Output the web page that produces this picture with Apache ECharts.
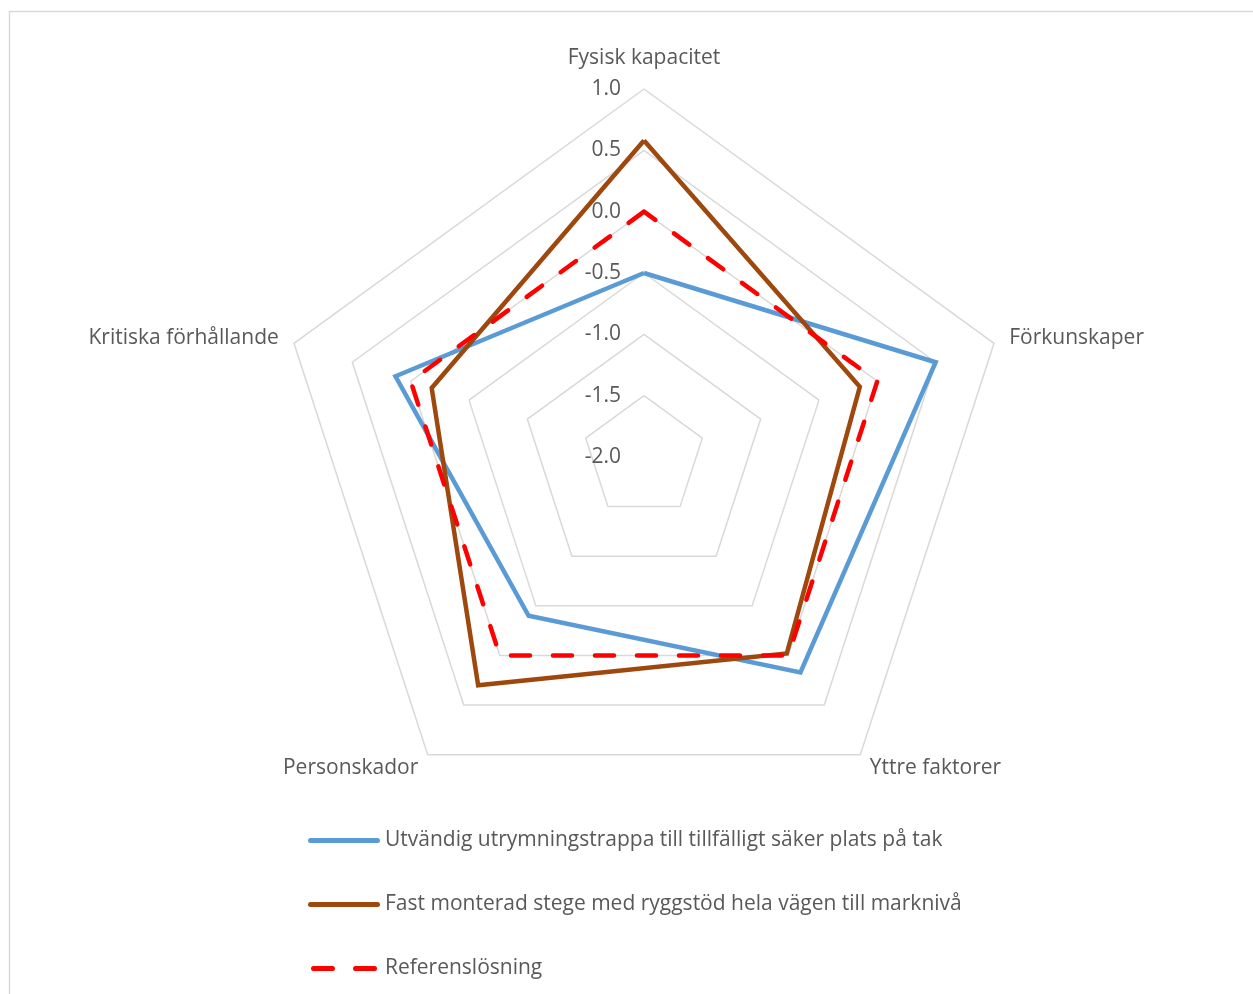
<!DOCTYPE html>
<html>
<head>
<meta charset="utf-8">
<script src="https://cdn.jsdelivr.net/npm/echarts@6/dist/echarts.min.js"></script>
<style>
  html, body { margin: 0; padding: 0; background: #ffffff; }
  #chart { width: 1253px; height: 994px; }
</style>
</head>
<body>
<div id="chart"></div>
<script>
// Criteria, listed clockwise from the top of the web
const criteria = ['Fysisk kapacitet', 'Förkunskaper', 'Yttre faktorer', 'Personskador', 'Kritiska förhållande'];

// Scores per alternative (same order as criteria)
const utvandigTrappa = [-0.5, 0.5, 0.17, -0.4, 0.13];
const fastStege = [0.58, -0.15, -0.02, 0.3, -0.18];
const referens = [0, 0, 0, 0, 0];

const seriesNames = [
  'Utvändig utrymningstrappa till tillfälligt säker plats på tak',
  'Fast monterad stege med ryggstöd hela vägen till marknivå',
  'Referenslösning'
];

// Value scale of the web
const scaleMin = -2.0;
const scaleMax = 1.0;
const scaleStep = 0.5;

const FONT = '"Open Sans", "Noto Sans", sans-serif';
const FONT_SIZE = 21;
const TEXT_COLOR = '#595959';

// ECharts lays indicators out counter-clockwise; reorder so the web reads clockwise
const ccwOrder = [0, 4, 3, 2, 1];
const reorder = arr => ccwOrder.map(i => arr[i]);

const indicators = reorder(criteria).map((name, i) => {
  const ind = { name: name, min: scaleMin, max: scaleMax };
  if (i === 0) {
    // the top axis carries the value labels and sits a little further out
    ind.nameGap = 20;
    ind.axisLabel = {
      show: true,
      color: TEXT_COLOR,
      fontFamily: FONT,
      fontSize: FONT_SIZE,
      margin: 23,
      padding: [5, 0, 0, 0],
      formatter: v => Number(v).toFixed(1)
    };
  }
  return ind;
});

const chart = echarts.init(document.getElementById('chart'), null, { renderer: 'canvas' });

chart.setOption({
  backgroundColor: '#ffffff',
  animation: false,
  graphic: [{
    type: 'rect',
    shape: { x: 9.5, y: 11.5, width: 1400, height: 1200 },
    style: { fill: 'none', stroke: '#d9d9d9', lineWidth: 1.5 },
    silent: true,
    z: -10
  }],
  radar: {
    center: [644, 457],
    radius: 368,
    startAngle: 90,
    shape: 'polygon',
    splitNumber: Math.round((scaleMax - scaleMin) / scaleStep),
    indicator: indicators,
    nameGap: 16,
    axisName: { color: TEXT_COLOR, fontFamily: FONT, fontSize: FONT_SIZE, padding: [3, 0, 0, 0] },
    axisLine: { show: false },
    axisTick: { show: false },
    axisLabel: { show: false },
    splitArea: { show: false },
    splitLine: { lineStyle: { color: '#d9d9d9', width: 1.5 } }
  },
  legend: {
    orient: 'vertical',
    left: 303,
    top: 825,
    itemWidth: 72,
    itemHeight: 5,
    itemGap: 43,
    textStyle: { color: TEXT_COLOR, fontFamily: FONT, fontSize: FONT_SIZE },
    itemStyle: { borderWidth: 0 },
    data: [
      { name: seriesNames[0], icon: 'path://M2.5,0H69.5A2.5,2.5 0 0 1 69.5,5H2.5A2.5,2.5 0 0 1 2.5,0Z' },
      { name: seriesNames[1], icon: 'path://M2.5,0H69.5A2.5,2.5 0 0 1 69.5,5H2.5A2.5,2.5 0 0 1 2.5,0Z' },
      { name: seriesNames[2], icon: 'path://M2.5,0H21.5A2.5,2.5 0 0 1 21.5,5H2.5A2.5,2.5 0 0 1 2.5,0Z M44.5,0H63.5A2.5,2.5 0 0 1 63.5,5H44.5A2.5,2.5 0 0 1 44.5,0Z' }
    ]
  },
  series: [{
    type: 'radar',
    symbol: 'none',
    data: [
      {
        name: seriesNames[0],
        value: reorder(utvandigTrappa),
        itemStyle: { color: '#5B9BD5' },
        lineStyle: { color: '#5B9BD5', width: 4.5, join: 'miter' }
      },
      {
        name: seriesNames[1],
        value: reorder(fastStege),
        itemStyle: { color: '#9E480E' },
        lineStyle: { color: '#9E480E', width: 4.5, join: 'miter' }
      },
      {
        name: seriesNames[2],
        value: reorder(referens),
        itemStyle: { color: '#FF0000' },
        lineStyle: { color: '#FF0000', width: 4.5, type: [19, 23], cap: 'round', join: 'round' }
      }
    ]
  }]
});
</script>
</body>
</html>
